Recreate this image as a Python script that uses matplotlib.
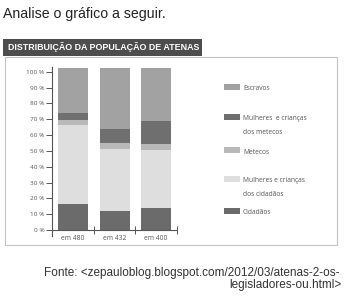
import matplotlib
matplotlib.use("Agg")
import matplotlib.pyplot as plt
from matplotlib.patches import Rectangle

W, H = 350, 296
categories = ["em 480", "em 432", "em 400"]
series_names = ["Cidadãos", "Mulheres e crianças\ndos cidadãos", "Metecos",
                "Mulheres  e crianças\ndos metecos", "Escravos"]
cidadaos = [16.4, 12.0, 14.1]
mulheres_cidadaos = [49.9, 39.0, 36.2]
metecos = [3.0, 4.2, 4.2]
mulheres_metecos = [4.4, 8.4, 14.3]
escravos = [28.8, 38.9, 33.7]
series = [cidadaos, mulheres_cidadaos, metecos, mulheres_metecos, escravos]
colors = ["#6b6b6b", "#dedede", "#b9b9b9", "#6f6f6f", "#a2a2a2"]
yticks = list(range(0, 101, 10))
ytick_labels = [f"{v} %" for v in yticks]

fig = plt.figure(figsize=(W / 100, H / 100), dpi=100)
fig.patch.set_facecolor("white")

def fx(px):
    return px / W

def fy(py):
    return 1 - py / H

# intro text
fig.text(fx(3), fy(18), "Analise o gráfico a seguir.", family="Liberation Sans",
         fontsize=10.2, color="#222222", va="baseline", ha="left")

# frame
fig.patches.append(Rectangle((fx(5), fy(245)), fx(332), 188 / H, transform=fig.transFigure,
                             facecolor="none", edgecolor="#c4c4c4", lw=0.8))
# title box
fig.patches.append(Rectangle((fx(3), fy(56)), fx(199), 17 / H, transform=fig.transFigure,
                             facecolor="#4d4d4d", edgecolor="none"))
fig.text(fx(8), fy(47.5), "DISTRIBUIÇÃO DA POPULAÇÃO DE ATENAS", family="Liberation Sans",
         fontsize=6.4, fontweight="bold", color="white", va="center", ha="left")

# axes
ax = fig.add_axes([fx(52), fy(236.3), 125 / W, (236.3 - 67) / H])
x = list(range(len(categories)))
bottom = [0.0] * len(categories)
for vals, c in zip(series, colors):
    ax.bar(x, vals, width=0.72, bottom=bottom, color=c, edgecolor="none", zorder=2)
    bottom = [b + v for b, v in zip(bottom, vals)]

ax.set_xlim(-0.5, 2.5)
ax.set_ylim(-4, 103)
for s in ["top", "right"]:
    ax.spines[s].set_visible(False)
ax.spines["bottom"].set_position(("data", 0))
ax.spines["left"].set_color("#555555")
ax.spines["bottom"].set_color("#555555")
ax.spines["left"].set_linewidth(0.8)
ax.spines["bottom"].set_linewidth(0.8)
ax.set_yticks(yticks)
ax.set_yticklabels(ytick_labels, family="Open Sans", fontsize=4.6, color="#555555")
ax.tick_params(axis="y", length=4, width=0.7, color="#555555", pad=1.5)
ax.set_xticks([0.5, 1.5, 2.5])
ax.set_xticklabels([])
ax.tick_params(axis="x", direction="inout", length=6, width=0.7, color="#555555")
for i, lab in enumerate(categories):
    ax.text(i, -3, lab, family="Open Sans", fontsize=4.8, color="#555555",
            ha="center", va="top")
ax.set_facecolor("none")

# legend
leg_y = {4: 87, 3: 117, 2: 150, 1: 179, 0: 211}
for i, name in enumerate(series_names):
    yc = leg_y[i]
    fig.patches.append(Rectangle((fx(224), fy(yc + 3)), fx(16), 6 / H, transform=fig.transFigure,
                                 facecolor=colors[i], edgecolor="none"))
    lines = name.split("\n")
    for j, ln in enumerate(lines):
        fig.text(fx(243), fy(yc + 2 + 13.5 * j), ln, family="Open Sans", fontsize=4.8,
                 color="#555555", ha="left", va="center")

# source
fig.text(fx(340), fy(273), "Fonte: <zepauloblog.blogspot.com/2012/03/atenas-2-os-",
         family="Liberation Sans", fontsize=8.5, color="#333333", ha="right", va="center")
fig.text(fx(342), fy(285), "legisladores-ou.html>",
         family="Liberation Sans", fontsize=8.5, color="#333333", ha="right", va="center")

fig.savefig("out.png", dpi=100, facecolor="white")
